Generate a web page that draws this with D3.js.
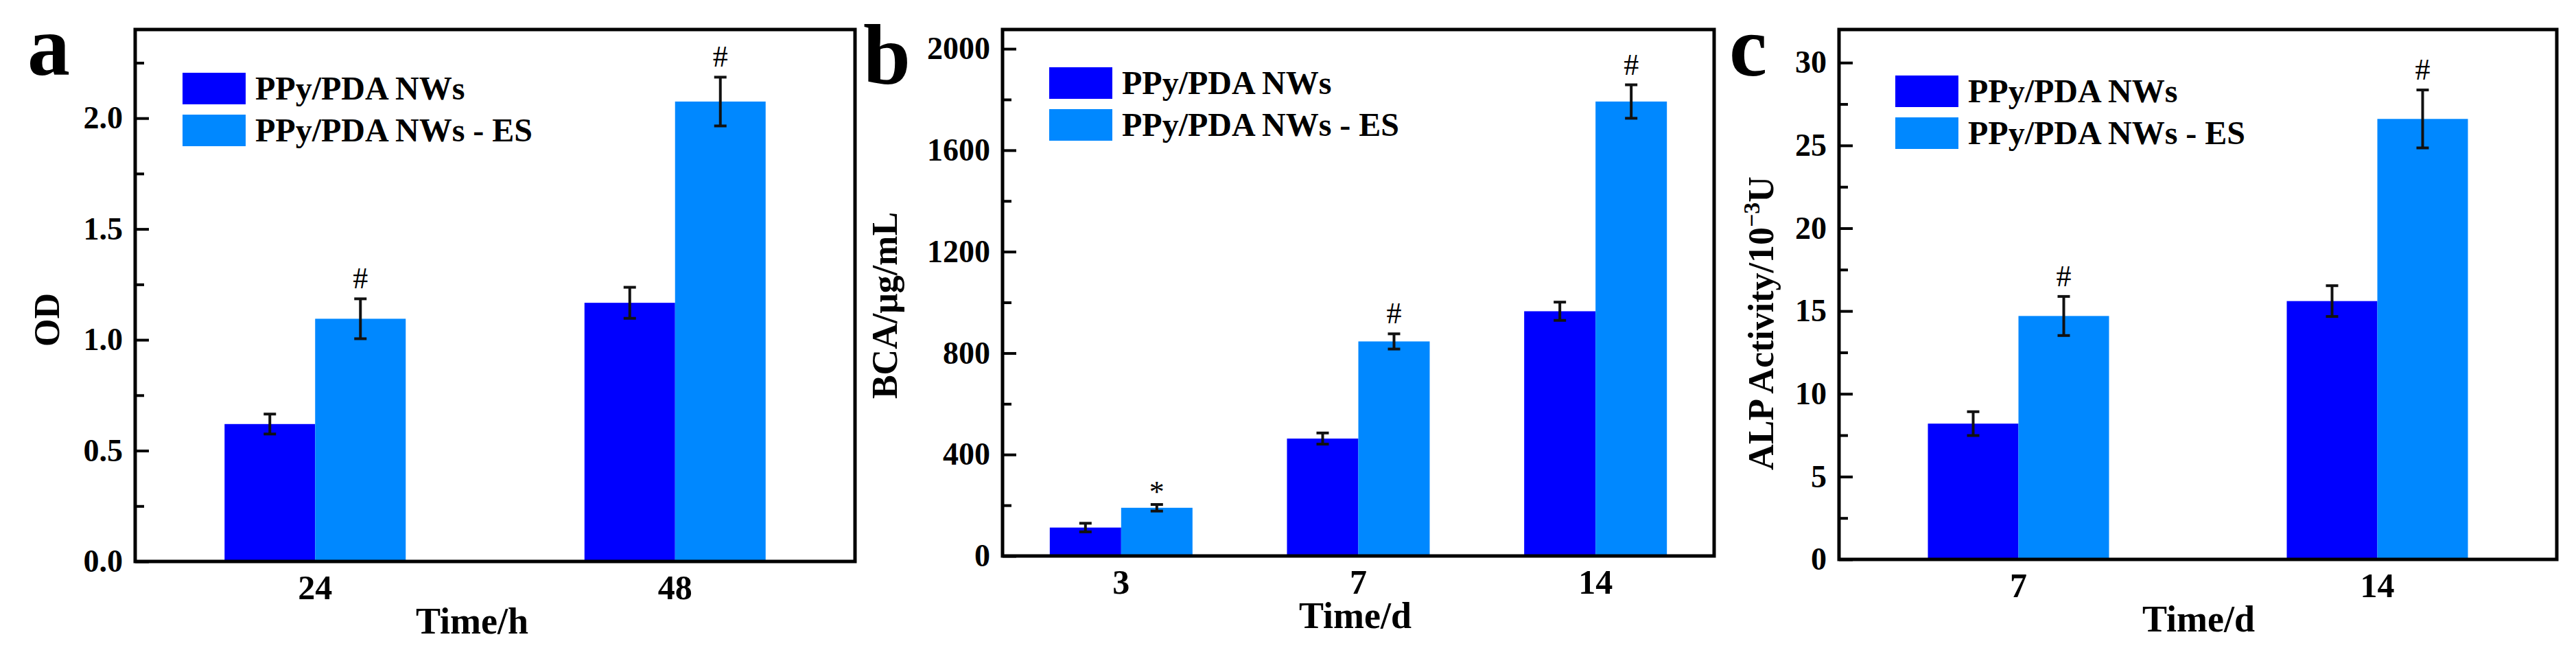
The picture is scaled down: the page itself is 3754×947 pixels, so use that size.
<!DOCTYPE html>
<html>
<head>
<meta charset="utf-8">
<script src="https://cdn.jsdelivr.net/npm/d3@7"></script>
<style>
  body { margin: 0; background: #fff; }
  svg text { font-family: "Liberation Serif", "Times New Roman", serif; font-weight: bold; }
</style>
</head>
<body>
<script>
// ---- data ----
const seriesNames = ["PPy/PDA NWs", "PPy/PDA NWs - ES"];

// panel a : OD
const odTimes = ["24", "48"];
const odPlain = [0.62, 1.167];
const odPlainErr = [0.045, 0.07];
const odES = [1.095, 2.075];
const odESErr = [0.09, 0.11];
const odMarks = ["#", "#"];
const odTicks = [0, 0.5, 1.0, 1.5, 2.0];
const odMinor = [0.25, 0.75, 1.25, 1.75, 2.25];

// panel b : BCA
const bcaTimes = ["3", "7", "14"];
const bcaPlain = [112, 463, 965];
const bcaPlainErr = [17, 22, 36];
const bcaES = [190, 846, 1792];
const bcaESErr = [13, 30, 66];
const bcaMarks = ["*", "#", "#"];
const bcaTicks = [0, 400, 800, 1200, 1600, 2000];
const bcaMinor = [200, 600, 1000, 1400, 1800];

// panel c : ALP
const alpTimes = ["7", "14"];
const alpPlain = [8.2, 15.6];
const alpPlainErr = [0.72, 0.93];
const alpES = [14.7, 26.6];
const alpESErr = [1.18, 1.75];
const alpMarks = ["#", "#"];
const alpTicks = [0, 5, 10, 15, 20, 25, 30];
const alpMinor = [2.5, 7.5, 12.5, 17.5, 22.5, 27.5];

const colors = ["#0000ff", "#0088ff"];

const svg = d3.select("body").append("svg")
    .attr("width", 3754)
    .attr("height", 947);

function drawPanel(p) {
    const g = svg.append("g");

    const x = d3.scalePoint()
        .domain(p.cats)
        .range([p.left, p.right])
        .padding(0.5);

    const sub = d3.scaleBand()
        .domain([0, 1])
        .range([-p.barW, p.barW]);

    const y = d3.scaleLinear()
        .domain([0, p.ymax])
        .range([p.bottom, p.top]);

    // bars
    const rows = [];
    p.cats.forEach((c, i) => {
        rows.push({cat: c, s: 0, v: p.plain[i], e: p.plainErr[i], mark: null});
        rows.push({cat: c, s: 1, v: p.es[i], e: p.esErr[i], mark: p.marks[i]});
    });
    const cx = d => x(d.cat) + sub(d.s) + sub.bandwidth() / 2;

    g.selectAll(".bar")
        .data(rows)
        .enter()
        .append("rect")
        .attr("class", "bar")
        .attr("x", d => x(d.cat) + sub(d.s))
        .attr("y", d => y(d.v))
        .attr("width", sub.bandwidth())
        .attr("height", d => y(0) - y(d.v))
        .attr("fill", d => colors[d.s]);

    // error bars
    const cap = 9;
    const err = g.selectAll(".err")
        .data(rows)
        .enter()
        .append("g")
        .attr("class", "err")
        .attr("stroke", "#111")
        .attr("stroke-width", 4);

    err.append("line")
        .attr("x1", cx).attr("x2", cx)
        .attr("y1", d => y(d.v - d.e))
        .attr("y2", d => y(d.v + d.e));
    err.append("line")
        .attr("x1", d => cx(d) - cap).attr("x2", d => cx(d) + cap)
        .attr("y1", d => y(d.v + d.e))
        .attr("y2", d => y(d.v + d.e));
    err.append("line")
        .attr("x1", d => cx(d) - cap).attr("x2", d => cx(d) + cap)
        .attr("y1", d => y(d.v - d.e))
        .attr("y2", d => y(d.v - d.e));

    // significance marks
    g.selectAll(".mark")
        .data(rows.filter(d => d.mark))
        .enter()
        .append("text")
        .attr("class", "mark")
        .attr("x", cx)
        .attr("y", d => y(d.v + d.e) - (d.mark === "*" ? 4 : 15))
        .attr("text-anchor", "middle")
        .style("font-weight", "normal")
        .style("font-size", "44px")
        .text(d => d.mark);

    // y axis, ticks pointing inwards
    const yAxis = g.append("g")
        .attr("transform", `translate(${p.left},0)`)
        .call(d3.axisLeft(y).tickValues(p.ticks).tickFormat(p.fmt)
            .tickSizeInner(-20).tickSizeOuter(0).tickPadding(18));
    yAxis.select(".domain").remove();
    yAxis.selectAll(".tick line").attr("stroke", "#000").attr("stroke-width", 4);
    yAxis.selectAll(".tick text")
        .style("font-size", "46px")
        .attr("fill", "#000");

    const yMinor = g.append("g")
        .attr("transform", `translate(${p.left},0)`)
        .call(d3.axisLeft(y).tickValues(p.minor).tickFormat("")
            .tickSizeInner(-13).tickSizeOuter(0));
    yMinor.select(".domain").remove();
    yMinor.selectAll(".tick line").attr("stroke", "#000").attr("stroke-width", 4);

    // frame
    g.append("rect")
        .attr("x", p.left)
        .attr("y", p.top)
        .attr("width", p.right - p.left)
        .attr("height", p.bottom - p.top)
        .attr("fill", "none")
        .attr("stroke", "#000")
        .attr("stroke-width", 5);

    // x category labels
    g.selectAll(".xlab")
        .data(p.cats)
        .enter()
        .append("text")
        .attr("x", d => x(d))
        .attr("y", p.bottom + 55)
        .attr("text-anchor", "middle")
        .style("font-size", "50px")
        .text(d => d);

    // axis titles
    g.append("text")
        .attr("x", p.xTitleX)
        .attr("y", p.bottom + 105)
        .attr("text-anchor", "middle")
        .style("font-size", "54px")
        .text(p.xTitle);

    const yt = g.append("text")
        .attr("transform", `translate(${p.yTitleX},${p.yTitleY}) rotate(-90)`)
        .attr("text-anchor", "middle")
        .style("font-size", "52px");
    p.yTitle(yt);

    // legend
    const legend = g.append("g")
        .attr("transform", `translate(${p.legX},${p.legY})`);
    legend.selectAll("rect")
        .data(seriesNames)
        .enter()
        .append("rect")
        .attr("x", 0)
        .attr("y", (d, i) => i * 61)
        .attr("width", 92)
        .attr("height", 46)
        .attr("fill", (d, i) => colors[i]);
    legend.selectAll("text")
        .data(seriesNames)
        .enter()
        .append("text")
        .attr("x", 106)
        .attr("y", (d, i) => i * 61 + 39)
        .style("font-size", "48px")
        .text(d => d);

    // panel letter
    g.append("text")
        .attr("x", p.letterX)
        .attr("y", p.letterY)
        .style("font-size", "124px")
        .text(p.letter);
}

drawPanel({
    letter: "a", letterX: 40, letterY: 109,
    cats: odTimes, plain: odPlain, plainErr: odPlainErr, es: odES, esErr: odESErr, marks: odMarks,
    ticks: odTicks, minor: odMinor, fmt: d3.format(".1f"),
    left: 197, right: 1246, top: 43, bottom: 818, ymax: 2.4, barW: 132,
    xTitle: "Time/h", xTitleX: 688,
    yTitleX: 86, yTitleY: 466,
    yTitle: t => t.text("OD"),
    legX: 266, legY: 106
});

drawPanel({
    letter: "b", letterX: 1258, letterY: 122,
    cats: bcaTimes, plain: bcaPlain, plainErr: bcaPlainErr, es: bcaES, esErr: bcaESErr, marks: bcaMarks,
    ticks: bcaTicks, minor: bcaMinor, fmt: d3.format("d"),
    left: 1461, right: 2498, top: 43, bottom: 810, ymax: 2076, barW: 104,
    xTitle: "Time/d", xTitleX: 1975,
    yTitleX: 1307, yTitleY: 445,
    yTitle: t => t.text("BCA/μg/mL"),
    legX: 1529, legY: 98
});

drawPanel({
    letter: "c", letterX: 2520, letterY: 110,
    cats: alpTimes, plain: alpPlain, plainErr: alpPlainErr, es: alpES, esErr: alpESErr, marks: alpMarks,
    ticks: alpTicks, minor: alpMinor, fmt: d3.format("d"),
    left: 2680, right: 3726, top: 43, bottom: 815, ymax: 32, barW: 132,
    xTitle: "Time/d", xTitleX: 3204,
    yTitleX: 2584, yTitleY: 471,
    yTitle: t => {
        t.append("tspan").text("ALP Activity/10");
        t.append("tspan").attr("dy", -20).style("font-size", "34px").text("−3");
        t.append("tspan").attr("dy", 20).text("U");
    },
    legX: 2762, legY: 110
});
</script>
</body>
</html>
